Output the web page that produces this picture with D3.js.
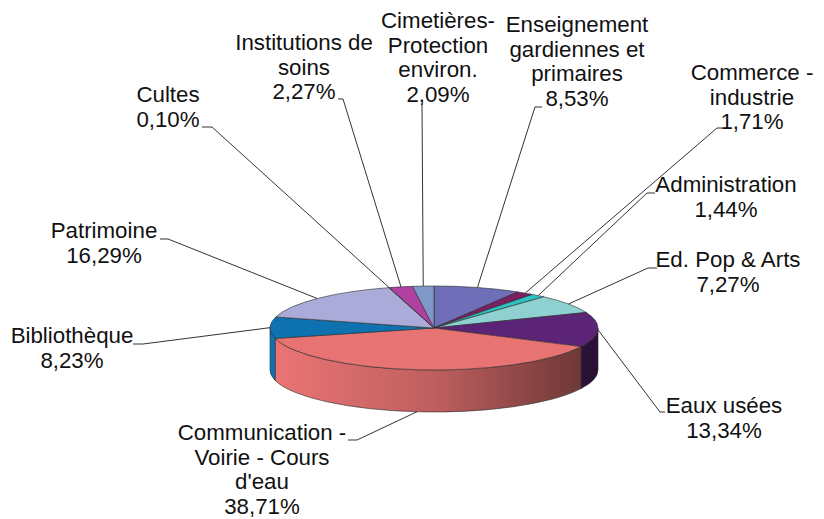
<!DOCTYPE html>
<html>
<head>
<meta charset="utf-8">
<script src="https://cdn.jsdelivr.net/npm/d3@7/dist/d3.min.js"></script>
<style>
  html, body { margin: 0; padding: 0; background: #fff; }
  svg { display: block; }
  text { font-family: "Liberation Sans", Arial, sans-serif; font-size: 22.3px; fill: #111; }
</style>
</head>
<body>
<svg id="chart" width="824" height="519"></svg>
<script>
// ---- data ----
const categories = [
  "Enseignement\ngardiennes et\nprimaires",
  "Commerce -\nindustrie",
  "Administration",
  "Ed. Pop & Arts",
  "Eaux usées",
  "Communication -\nVoirie - Cours\nd'eau",
  "Bibliothèque",
  "Patrimoine",
  "Cultes",
  "Institutions de\nsoins",
  "Cimetières-\nProtection\nenviron."
];
const values = [8.53, 1.71, 1.44, 7.27, 13.34, 38.71, 8.23, 16.29, 0.10, 2.27, 2.09];
const colors = ["#6E6EB9", "#7A1F62", "#2CC2C2", "#8FD0D0", "#5C2476", "#E87373",
                "#0F72B0", "#ABABD9", "#9A9AC8", "#B040A2", "#8098C8"];

// ---- layout (label centre x, first baseline y, leader elbow points) ----
const labelPos = [
  {x: 577, y: 32,  elbow: [[542,107],[535,107]]},
  {x: 752, y: 80,  elbow: [[722,128],[717,128]]},
  {x: 726, y: 192, elbow: [[655,193],[647,193]]},
  {x: 728, y: 267, elbow: [[657,268],[648,268]]},
  {x: 724, y: 413, elbow: [[665,412],[660,412]]},
  {x: 262, y: 440, elbow: [[348,440],[357,440]], bottom: true},
  {x: 72,  y: 343, elbow: [[133,344],[143,344]]},
  {x: 104, y: 238, elbow: [[160,239],[168,239]]},
  {x: 168, y: 102, elbow: [[202,127],[212,127]]},
  {x: 304, y: 50,  elbow: [[338,99],[343,99]]},
  {x: 438, y: 28,  elbow: [[421,104],[422,104]]}
];
const lineHeight = 24.7;

const cx = 434, cy = 328, rx = 164, ry = 42, depth = 42;

const svg = d3.select("#chart");
const defs = svg.append("defs");

const pie = d3.pie().sort(null).value(d => d);
const arcs = pie(values);

// elliptical projection via scales
const sx = d3.scaleLinear().domain([-1, 1]).range([cx - rx, cx + rx]);
const sy = d3.scaleLinear().domain([-1, 1]).range([cy - ry, cy + ry]);
const pt = (a, dz = 0) => [sx(Math.sin(a)), sy(-Math.cos(a)) + dz];
const fmt = v => d3.format(".2f")(v).replace(".", ",") + "%";

// gradients for side walls
arcs.forEach((d, i) => {
  const g = defs.append("linearGradient")
    .attr("id", "side" + i)
    .attr("gradientUnits", "userSpaceOnUse")
    .attr("x1", cx - rx).attr("x2", cx + rx).attr("y1", 0).attr("y2", 0);
  const c = d3.color(colors[i]);
  g.append("stop").attr("offset", 0).attr("stop-color", c.brighter(0.05).formatHex());
  g.append("stop").attr("offset", 0.5).attr("stop-color", c.darker(0.55).formatHex());
  g.append("stop").attr("offset", 1).attr("stop-color", c.darker(2.3).formatHex());
});

// side walls (front half only)
const sides = svg.append("g");
arcs.forEach((d, i) => {
  const s = Math.max(d.startAngle, Math.PI / 2);
  const e = Math.min(d.endAngle, 3 * Math.PI / 2);
  if (s >= e) return;
  const p0 = pt(s), p1 = pt(e), p1b = pt(e, depth), p0b = pt(s, depth);
  const path = `M${p0}A${rx},${ry} 0 0 1 ${p1}L${p1b}A${rx},${ry} 0 0 0 ${p0b}Z`;
  sides.append("path").attr("d", path)
    .attr("fill", `url(#side${i})`)
    .attr("stroke", "#2a2a2a").attr("stroke-width", 0.6).attr("stroke-linejoin", "round");
});

// top faces
const tops = svg.append("g");
arcs.forEach((d, i) => {
  const p0 = pt(d.startAngle), p1 = pt(d.endAngle);
  const large = (d.endAngle - d.startAngle) > Math.PI ? 1 : 0;
  const path = `M${cx},${cy}L${p0}A${rx},${ry} 0 ${large} 1 ${p1}Z`;
  tops.append("path").attr("d", path)
    .attr("fill", colors[i])
    .attr("stroke", "#2a2a2a").attr("stroke-width", 0.6).attr("stroke-linejoin", "round");
});

// leader lines
const leaders = svg.append("g");
arcs.forEach((d, i) => {
  const mid = (d.startAngle + d.endAngle) / 2;
  const lp = labelPos[i];
  const anchor = pt(mid, lp.bottom ? depth : 0);
  const pts = lp.elbow.concat([anchor]);
  leaders.append("path")
    .attr("d", d3.line()(pts))
    .attr("fill", "none").attr("stroke", "#333").attr("stroke-width", 1);
});

// labels
const labels = svg.append("g");
arcs.forEach((d, i) => {
  const lp = labelPos[i];
  const lines = categories[i].split("\n").concat([fmt(values[i])]);
  const t = labels.append("text").attr("text-anchor", "middle");
  lines.forEach((ln, k) => {
    t.append("tspan").attr("x", lp.x).attr("y", lp.y + k * lineHeight).text(ln);
  });
});
</script>
</body>
</html>
